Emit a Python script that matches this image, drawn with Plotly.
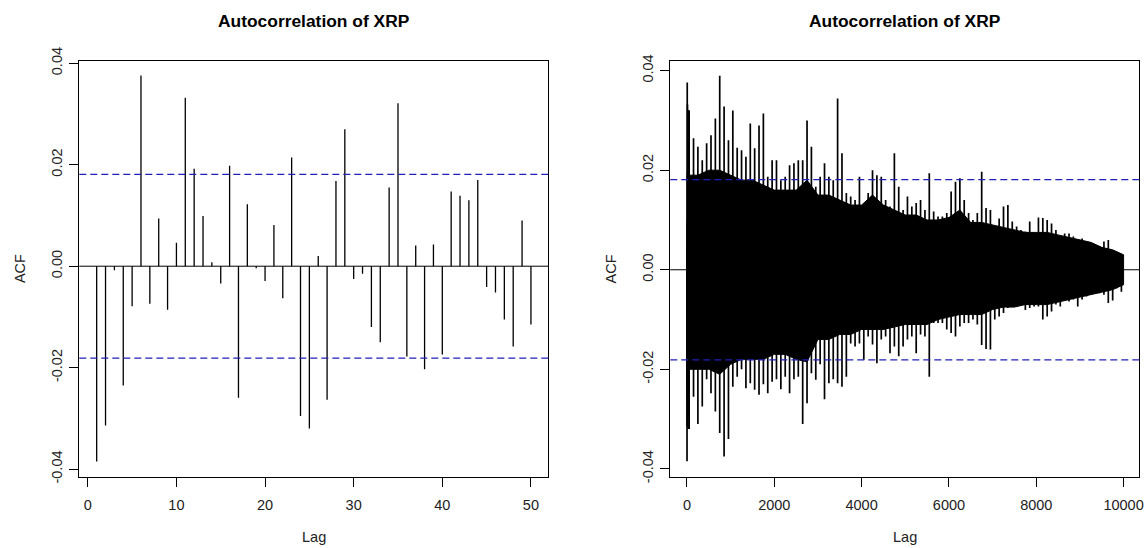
import plotly.graph_objects as go

# ---------------- data ----------------
# Left panel: ACF for lags 1..50
lags_short = list(range(1, 51))
acf_short = [-0.0385, -0.0314, -0.0008, -0.0235, -0.0079, 0.0376, -0.0074, 0.0094, -0.0086, 0.0046,
             0.0332, 0.0192, 0.0099, 0.0008, -0.0034, 0.0198, -0.0259, 0.0122, -0.0004, -0.0029,
             0.0081, -0.0063, 0.0214, -0.0295, -0.0320, 0.0020, -0.0263, 0.0168, 0.0270, -0.0025,
             -0.0015, -0.0120, -0.0150, 0.0155, 0.0321, -0.0178, 0.0041, -0.0203, 0.0043, -0.0174,
             0.0147, 0.0139, 0.0130, 0.0170, -0.0041, -0.0052, -0.0105, -0.0158, 0.0090, -0.0115]

# Right panel (lags up to 10000): largest positive / negative spike read per 100-lag bin
bin_lags = [100 * k + 50 for k in range(100)]
bin_upper = [0.0320, 0.0264, 0.0247, 0.0220, 0.0254, 0.0270, 0.0304, 0.0390, 0.0328, 0.0260,
             0.0320, 0.0245, 0.0240, 0.0227, 0.0294, 0.0244, 0.0290, 0.0314, 0.0187, 0.0220,
             0.0220, 0.0180, 0.0187, 0.0210, 0.0214, 0.0220, 0.0220, 0.0300, 0.0247, 0.0167,
             0.0187, 0.0214, 0.0187, 0.0180, 0.0344, 0.0234, 0.0154, 0.0147, 0.0140, 0.0187,
             0.0127, 0.0154, 0.0200, 0.0190, 0.0187, 0.0140, 0.0127, 0.0234, 0.0167, 0.0120,
             0.0147, 0.0127, 0.0134, 0.0140, 0.0120, 0.0194, 0.0117, 0.0107, 0.0107, 0.0114,
             0.0157, 0.0177, 0.0184, 0.0140, 0.0114, 0.0100, 0.0114, 0.0197, 0.0124, 0.0120,
             0.0087, 0.0103, 0.0127, 0.0130, 0.0097, 0.0087, 0.0080, 0.0077, 0.0097, 0.0060,
             0.0105, 0.0104, 0.0100, 0.0093, 0.0080, 0.0067, 0.0073, 0.0073, 0.0067, 0.0060,
             0.0063, 0.0050, 0.0036, 0.0043, 0.0047, 0.0057, 0.0060, 0.0036, 0.0033, 0.0030]
bin_lower = [-0.0320, -0.0255, -0.0310, -0.0275, -0.0220, -0.0248, -0.0285, -0.0328, -0.0375, -0.0340,
             -0.0235, -0.0215, -0.0200, -0.0238, -0.0228, -0.0241, -0.0251, -0.0230, -0.0248, -0.0225,
             -0.0220, -0.0240, -0.0215, -0.0248, -0.0220, -0.0215, -0.0310, -0.0268, -0.0208, -0.0221,
             -0.0190, -0.0260, -0.0228, -0.0220, -0.0228, -0.0235, -0.0215, -0.0148, -0.0154, -0.0148,
             -0.0181, -0.0134, -0.0150, -0.0188, -0.0140, -0.0134, -0.0168, -0.0154, -0.0174, -0.0154,
             -0.0140, -0.0134, -0.0168, -0.0130, -0.0134, -0.0215, -0.0107, -0.0107, -0.0107, -0.0120,
             -0.0127, -0.0134, -0.0114, -0.0107, -0.0107, -0.0100, -0.0110, -0.0151, -0.0159, -0.0160,
             -0.0100, -0.0094, -0.0087, -0.0077, -0.0074, -0.0067, -0.0060, -0.0081, -0.0077, -0.0074,
             -0.0074, -0.0100, -0.0094, -0.0084, -0.0070, -0.0074, -0.0054, -0.0064, -0.0060, -0.0074,
             -0.0060, -0.0054, -0.0047, -0.0040, -0.0047, -0.0050, -0.0067, -0.0062, -0.0037, -0.0044]

# Right panel: edge of the dense black mass, read every 250 lags
mass_lags = [250 * k for k in range(41)]
mass_upper = [0.0190, 0.0190, 0.0200, 0.0200, 0.0190, 0.0180, 0.0180, 0.0170, 0.0160, 0.0160,
              0.0160, 0.0180, 0.0150, 0.0150, 0.0140, 0.0130, 0.0130, 0.0150, 0.0130, 0.0120,
              0.0110, 0.0110, 0.0100, 0.0100, 0.0105, 0.0120, 0.0095, 0.0095, 0.0090, 0.0085,
              0.0080, 0.0075, 0.0075, 0.0075, 0.0070, 0.0065, 0.0060, 0.0055, 0.0045, 0.0040, 0.0030]
mass_lower = [-0.0200, -0.0200, -0.0200, -0.0210, -0.0190, -0.0180, -0.0180, -0.0180, -0.0170, -0.0170,
              -0.0180, -0.0185, -0.0140, -0.0140, -0.0130, -0.0130, -0.0120, -0.0120, -0.0120, -0.0115,
              -0.0110, -0.0110, -0.0110, -0.0100, -0.0095, -0.0090, -0.0090, -0.0090, -0.0080, -0.0075,
              -0.0075, -0.0070, -0.0070, -0.0070, -0.0065, -0.0060, -0.0055, -0.0050, -0.0045, -0.0040, -0.0030]

ci_limit = 0.0181
y_ticks = [-0.04, -0.02, 0.0, 0.02, 0.04]
y_tick_text = ["-0.04", "-0.02", "0.00", "0.02", "0.04"]
x_ticks_left = [0, 10, 20, 30, 40, 50]
x_ticks_right = [0, 2000, 4000, 6000, 8000, 10000]
title_text = "Autocorrelation of XRP"

# ---------------- figure ----------------
W, H = 1146, 548
FONT = "Liberation Sans, Arial, sans-serif"
TICKFONT = dict(family=FONT, size=14.5, color="#222222")


def spikes(xs, ys):
    sx, sy = [], []
    for x, y in zip(xs, ys):
        sx += [x, x, None]
        sy += [0, y, None]
    return sx, sy


fig = go.Figure()

# left panel spikes
sx, sy = spikes(lags_short, acf_short)
fig.add_trace(go.Scatter(x=sx, y=sy, mode="lines", line=dict(color="black", width=1.3),
                         xaxis="x", yaxis="y", hoverinfo="skip", showlegend=False))

# right panel dense mass
fig.add_trace(go.Scatter(x=mass_lags + mass_lags[::-1], y=mass_upper + mass_lower[::-1],
                         mode="lines", fill="toself", fillcolor="black", line=dict(color="black", width=1),
                         xaxis="x2", yaxis="y2", hoverinfo="skip", showlegend=False))
# right panel spikes
sx, sy = spikes(lags_short + bin_lags + bin_lags, acf_short + bin_upper + bin_lower)
fig.add_trace(go.Scatter(x=sx, y=sy, mode="lines", line=dict(color="black", width=1.7),
                         xaxis="x2", yaxis="y2", hoverinfo="skip", showlegend=False))

shapes = []
for xa, ya in (("x", "y"), ("x2", "y2")):
    shapes.append(dict(type="line", xref=f"{xa} domain", yref=ya, x0=0, x1=1, y0=0, y1=0,
                       line=dict(color="black", width=1), layer="above"))
    for c in (ci_limit, -ci_limit):
        shapes.append(dict(type="line", xref=f"{xa} domain", yref=ya, x0=0, x1=1, y0=c, y1=c,
                           line=dict(color="#2020b8", width=1.2, dash="7px,4px"), layer="above"))

axis_common = dict(showline=True, mirror=True, linecolor="black", linewidth=1,
                   ticks="outside", ticklen=9, tickcolor="black", tickwidth=1,
                   showgrid=False, zeroline=False, tickfont=TICKFONT, fixedrange=True,
                   automargin=False)

fig.update_layout(
    template="none",
    width=W, height=H, autosize=False,
    margin=dict(l=0, r=0, t=0, b=0, pad=0),
    paper_bgcolor="white", plot_bgcolor="white",
    showlegend=False,
    xaxis=dict(domain=[79.3 / W, 548.3 / W], range=[-0.96, 51.96], anchor="y", ticklabelstandoff=5,
               tickvals=x_ticks_left, ticktext=[str(v) for v in x_ticks_left], **axis_common),
    yaxis=dict(domain=[1 - 477.3 / H, 1 - 60.7 / H], range=[-0.0416, 0.0405], anchor="x", ticklabelstandoff=2,
               tickvals=y_ticks, ticktext=y_tick_text, tickangle=-90, **axis_common),
    xaxis2=dict(domain=[670.3 / W, 1139.3 / W], range=[-382, 10360], anchor="y2", ticklabelstandoff=5,
                tickvals=x_ticks_right, ticktext=[str(v) for v in x_ticks_right], **axis_common),
    yaxis2=dict(domain=[1 - 477.3 / H, 1 - 60.7 / H], range=[-0.0417, 0.0420], anchor="x2", ticklabelstandoff=2,
                tickvals=y_ticks, ticktext=y_tick_text, tickangle=-90, **axis_common),
    shapes=shapes,
)

annotations = []
for cx, ax_x in ((313.8, 20.1), (904.8, 611.4)):
    annotations.append(dict(text=f"<b>{title_text}</b>", x=cx / W, y=1 - 21 / H, xref="paper", yref="paper",
                            xanchor="center", yanchor="middle", showarrow=False,
                            font=dict(family=FONT, size=17.4, color="black")))
    annotations.append(dict(text="Lag", x=cx / W, y=1 - 537 / H, xref="paper", yref="paper",
                            xanchor="center", yanchor="middle", showarrow=False,
                            font=dict(family=FONT, size=14.5, color="#222222")))
    annotations.append(dict(text="ACF", x=ax_x / W, y=1 - 269 / H, xref="paper", yref="paper",
                            xanchor="center", yanchor="middle", showarrow=False, textangle=-90,
                            font=dict(family=FONT, size=14.5, color="#222222")))
fig.update_layout(annotations=annotations)

fig.write_html("out.html", config={"displayModeBar": False, "staticPlot": True},
               post_script="document.body.style.margin='0';document.body.style.overflow='hidden';")
